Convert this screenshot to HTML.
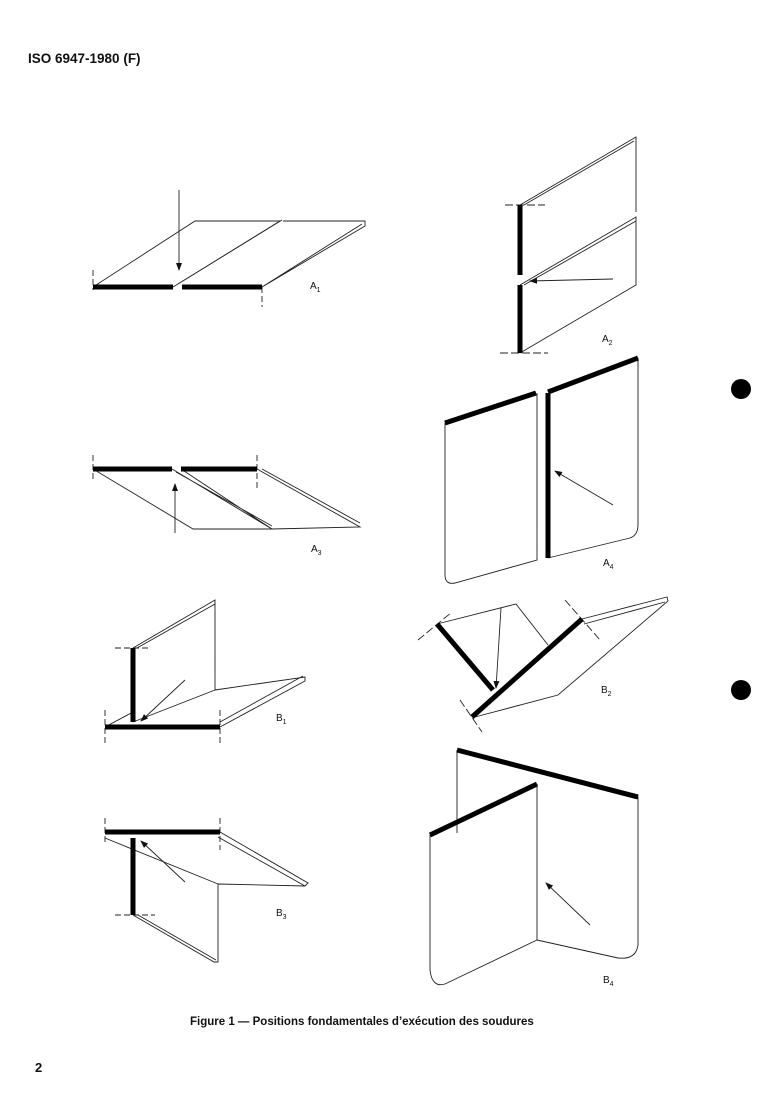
<!DOCTYPE html>
<html><head><meta charset="utf-8"><style>
html,body{margin:0;padding:0;background:#fff;}
svg{display:block;}
text{font-family:"Liberation Sans",sans-serif;fill:#111;}
</style></head><body>
<svg width="759" height="1098" viewBox="0 0 759 1098" xmlns="http://www.w3.org/2000/svg">
<defs><marker id="ah" markerWidth="8" markerHeight="8" refX="7" refY="3" orient="auto" markerUnits="userSpaceOnUse"><path d="M0,0 L8,3 L0,6 z" fill="#111"/></marker></defs>
<text x="28" y="63" font-size="13.5" font-weight="bold">ISO 6947-1980 (F)</text>
<g stroke="#222" stroke-width="0.9" fill="none">
<!-- A1 -->
<path d="M93,287 L195,221 L280,221 L173,287 M178,284 L282,220 M283,221 L365,221 L365,226 L262,287 L182,287 M285,221 L365,221 M262,287 L362,224"/>
<path d="M93,270 V290 M262,287 V307" stroke-dasharray="6,3"/>
<line x1="179" y1="190" x2="179" y2="270" marker-end="url(#ah)"/>
<!-- A2 -->
<path d="M520,205 L636,137 L636,212 M524,205 L634,141 M520,285 L636,217 L636,285 L520,353 M524,285 L636,221"/>
<path d="M505,205 H545 M500,353 H548" stroke-dasharray="8,3"/>
<line x1="613" y1="279" x2="530" y2="281" marker-end="url(#ah)"/>
<!-- A3 -->
<path d="M93,469 L193,529 L272,529 L172,469 M176,472 L272,526 M181,469 L272,529 L360,527 L257,469 M262,469 L360,523"/>
<path d="M93,455 V480 M257,455 V490" stroke-dasharray="6,3"/>
<line x1="175" y1="533" x2="175" y2="484" marker-end="url(#ah)"/>
<!-- A4 -->
<path d="M445,423 V575 Q445,585 455,583 L537,560 V393 M548,558 L630,538 Q638,535 638,525 V358"/>
<line x1="613" y1="505" x2="555" y2="471" marker-end="url(#ah)"/>
<!-- B1 -->
<path d="M133,648 L215,600 V690 M137,648 L215,604 M215,690 L305,677 L305,681 L220,727 M303,676 L220,722 M215,690 L133,722 M105,727 L133,712"/>
<path d="M115,648 H150 M105,710 V745 M220,710 V745" stroke-dasharray="6,3"/>
<line x1="185" y1="680" x2="141" y2="721" marker-end="url(#ah)"/>
<!-- B2 -->
<path d="M437,624 L516,604 L548,645 M582,619 L667,597 L668,601 L558,695 L475,717 M584,624 L665,602"/>
<path d="M418,640 L452,612 M565,600 L600,640 M460,700 L482,732" stroke-dasharray="8,3"/>
<line x1="501" y1="608" x2="496" y2="688" marker-end="url(#ah)"/>
<!-- B3 -->
<path d="M220,832 L308,883 L305,886 L218,884 M218,837 L305,886 M105,838 L218,884 M218,884 V962 L214,962 L133,915 M138,915 L216,960"/>
<path d="M105,818 V845 M220,818 V850 M115,915 H155" stroke-dasharray="6,3"/>
<line x1="185" y1="882" x2="141" y2="841" marker-end="url(#ah)"/>
<!-- B4 -->
<path d="M457,750 V833 M430,835 V970 Q432,988 445,984 L537,940 V784 M537,940 L618,958 Q636,960 638,945 V797"/>
<line x1="590" y1="925" x2="546" y2="883" marker-end="url(#ah)"/>
</g>
<g stroke="#000" stroke-width="5" fill="none">
<path d="M93,287 H173 M182,287 H262"/>
<path d="M520,205 V275 M520,285 V353"/>
<path d="M93,469 H172 M181,469 H257"/>
<path d="M445,423 L536,393 M548,393 V558 M548,392 L638,358"/>
<path d="M133,648 V722 M105,727 H220"/>
<path d="M437,624 L493,690 M472,717 L582,619"/>
<path d="M105,832 H220 M133,838 V915"/>
<path d="M457,750 L638,797 M430,835 L537,784"/>
</g>
<circle cx="741" cy="389" r="10" fill="#000"/>
<circle cx="741" cy="690" r="10" fill="#000"/>
<g font-size="10">
<text x="310" y="289">A<tspan font-size="7" dy="3">1</tspan></text>
<text x="602" y="342">A<tspan font-size="7" dy="3">2</tspan></text>
<text x="311" y="552">A<tspan font-size="7" dy="3">3</tspan></text>
<text x="603" y="566">A<tspan font-size="7" dy="3">4</tspan></text>
<text x="276" y="721">B<tspan font-size="7" dy="3">1</tspan></text>
<text x="601" y="693">B<tspan font-size="7" dy="3">2</tspan></text>
<text x="276" y="916">B<tspan font-size="7" dy="3">3</tspan></text>
<text x="603" y="983">B<tspan font-size="7" dy="3">4</tspan></text>
</g>
<text x="190" y="1025" font-size="11.5" font-weight="bold">Figure 1 — Positions fondamentales d’exécution des soudures</text>
<text x="35" y="1072" font-size="13" font-weight="bold">2</text>
</svg>
</body></html>
